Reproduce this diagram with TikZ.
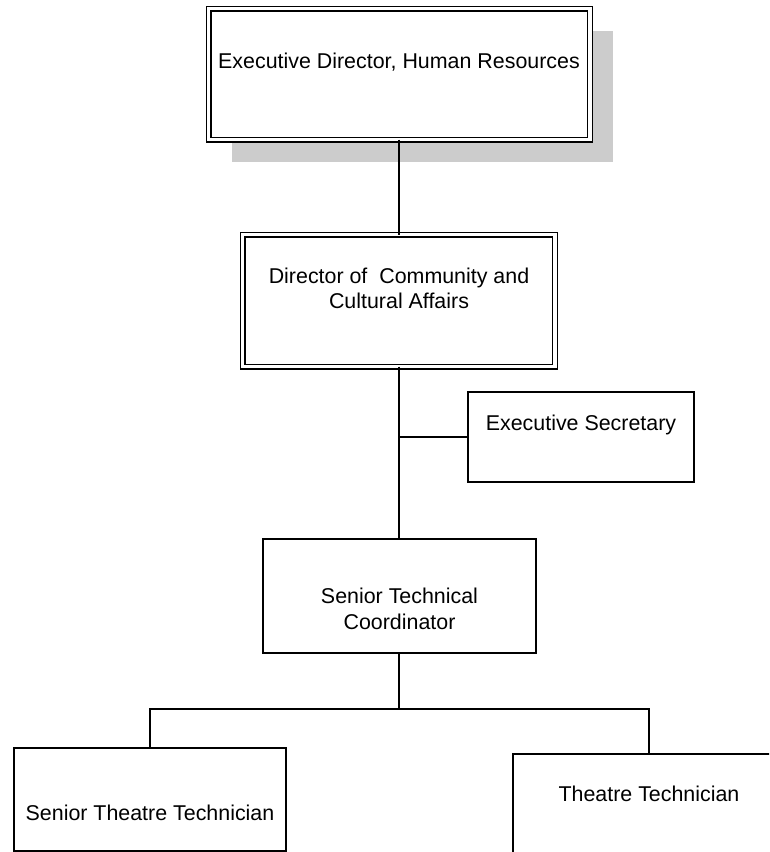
\documentclass[tikz,border=0pt]{standalone}
\usepackage{fontspec}
\setmainfont{Liberation Sans}
\usetikzlibrary{shadows}
\begin{document}
\begin{tikzpicture}[x=1pt, y=-1pt, line width=1.3pt,
    post/.style={draw, rectangle, fill=white, inner sep=0pt, outer sep=0pt},
    headpost/.style={post, double, double distance=3.4pt},
    caption/.style={align=center, inner sep=0pt, font=\fontsize{21.4}{25.5}\selectfont}]
        \useasboundingbox (0,0) rectangle (769,852);
        \clip (0,0) rectangle (769,852);
        \node[headpost, minimum width=381.5pt, minimum height=131pt,
            drop shadow={shadow xshift=23pt, shadow yshift=-22pt, fill=black!20, opacity=1}]
            (hr) at (399.25,74) {};
        \node[headpost, minimum width=312.5pt, minimum height=132pt] (dir) at (398.75,300.5) {};
        \node[post, minimum width=226pt, minimum height=90pt] (sec) at (581,437) {};
        \node[post, minimum width=273pt, minimum height=114pt] (stc) at (399.5,596) {};
        \node[post, minimum width=272pt, minimum height=103pt] (stt) at (150,799.5) {};
        \node[post, minimum width=272pt, minimum height=103pt] (tt) at (649,805.5) {};
        \node[caption] (hrtext) at (399,62) {Executive Director, Human Resources};
        \node[caption] (dirtext) at (399,288.5) {Director of\ \ Community and\\Cultural Affairs};
        \node[caption] (sectext) at (581,425) {Executive Secretary};
        \node[caption] (stctext) at (399.5,609) {Senior Technical\\Coordinator};
        \node[caption] (stttext) at (150,813) {Senior Theatre Technician};
        \node[caption] (tttext) at (649,794) {Theatre Technician};
        \coordinate (tap) at (399,437);
        \coordinate (bus) at (399,709);
        \draw (hr.south -| tap) -- (dir.north -| tap);
        \draw (dir.south -| tap) -- (stc.north -| tap);
        \draw (tap) -- (sec.west);
        \draw (stc.south -| bus) -- (bus);
        \draw (stt.north) |- (bus) -| (tt.north);
    \end{tikzpicture}
\end{document}
